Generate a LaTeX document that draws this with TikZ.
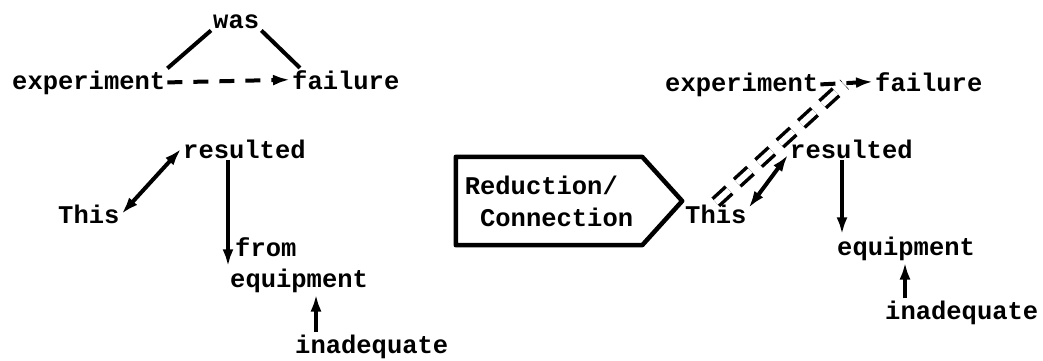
\documentclass[tikz,border=0pt]{standalone}
\usepackage{fontspec}
\setmonofont{Liberation Mono}
\usetikzlibrary{arrows.meta}
\definecolor{inkcolor}{HTML}{000000}

\begin{document}
\begin{tikzpicture}[x=1pt, y=1pt, >={Latex[length=17pt,width=11pt]},
  every node/.style={inner sep=2pt, text=inkcolor},
  word/.style={font=\fontsize{25.5}{32}\ttfamily\bfseries, anchor=base west},
  link/.style={draw=inkcolor, line width=4pt},
  dashlink/.style={link, dash pattern=on 15pt off 11pt},
  twinlink/.style={draw=inkcolor, line width=3.5pt, double, double distance=6pt,
                   dash pattern=on 18pt off 11pt}]

%%=== COORDINATE PLAN (pt, y downward negative) ======================
%%  Canvas 1043 x 360; left tree x = 12..450; right tree x = 665..1037
%%  Baselines: top row -89/-91, resulted -158, This -223
%%  Signal box body x = 456..642, tip x = 682, y = -157..-245
%%====================================================================
\useasboundingbox (0,0) rectangle (1043,-360);

%% --- Left tree: words ----------------------------------------------
\node[word] (wasL)  at (211,-28)  {was};
\node[word] (expL)  at (10,-89)   {experiment};
\node[word] (failL) at (290,-89)  {failure};
\node[word] (resL)  at (181,-158) {resulted};
\node[word] (thisL) at (56,-223)  {This};
\node[word] (fromL) at (233,-256) {from};
\node[word] (eqL)   at (228,-287) {equipment};
\node[word] (inL)   at (293,-353) {inadequate};

%% --- Left tree: connectors -----------------------------------------
\draw[link] (expL.north east) -- (wasL.south west);
\draw[link] (wasL.south east) -- ([xshift=10pt]failL.north west);
\draw[dashlink, ->] (expL.east) -- (failL.west);
\draw[link, <->] (thisL.east) -- (resL.west);
\draw[link, ->] (resL.south -| eqL.north west) -- (eqL.north west);
\coordinate (inLtop) at ([xshift=23pt]inL.north west);
\draw[link, ->] (inLtop) -- (inLtop |- eqL.south);

%% --- Reduction / Connection signal box -----------------------------
\node[font=\fontsize{25.5}{32}\ttfamily\bfseries, align=left,
      minimum width=186pt, minimum height=88pt]
  (redbox) at (549,-201) {Reduction/\\\hspace*{0.6em}Connection};
\coordinate (redtip) at ([xshift=40pt]redbox.east);
\draw[draw=inkcolor, line width=4.5pt, line join=round]
  (redbox.north west) -- (redbox.north east) -- (redtip)
  -- (redbox.south east) -- (redbox.south west) -- cycle;

%% --- Right tree: words ---------------------------------------------
\node[word] (expR)  at (663,-91)  {experiment};
\node[word] (failR) at (873,-91)  {failure};
\node[word] (resR)  at (788,-158) {resulted};
\node[word] (thisR) at (683,-223) {This};
\node[word] (eqR)   at (835,-255) {equipment};
\node[word] (inR)   at (883,-319) {inadequate};

%% --- Right tree: connectors ----------------------------------------
\draw[dashlink, ->] (expR.east) -- (failR.west);
\coordinate (linkR) at ([xshift=24pt]expR.east);
\draw[twinlink] (thisR.north) -- (linkR);
\draw[link, <->] ([yshift=6pt]thisR.east) -- ([yshift=-6pt]resR.west);
\coordinate (eqRtop) at ([xshift=7pt]eqR.north west);
\draw[link, ->] (resR.south -| eqRtop) -- (eqRtop);
\coordinate (inRtop) at ([xshift=22pt]inR.north west);
\draw[link, ->] (inRtop) -- (inRtop |- eqR.south);

\end{tikzpicture}
\end{document}
